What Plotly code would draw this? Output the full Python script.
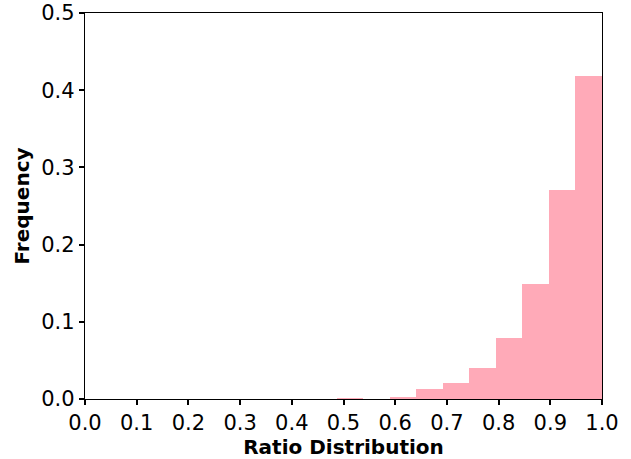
import plotly.graph_objects as go

bin_edges = [0.4870, 0.5383, 0.5896, 0.6409, 0.6922, 0.7435, 0.7948, 0.8461, 0.8974, 0.9487, 1.0]
frequencies = [0.0013, 0.0, 0.003, 0.013, 0.021, 0.040, 0.079, 0.149, 0.271, 0.418]
x_ticks = [0.0, 0.1, 0.2, 0.3, 0.4, 0.5, 0.6, 0.7, 0.8, 0.9, 1.0]
y_ticks = [0.0, 0.1, 0.2, 0.3, 0.4, 0.5]

centers = [(a + b) / 2 for a, b in zip(bin_edges[:-1], bin_edges[1:])]
widths = [b - a for a, b in zip(bin_edges[:-1], bin_edges[1:])]

fig = go.Figure(go.Bar(
    x=centers, y=frequencies, width=widths,
    marker=dict(color="#FFAAB8", line=dict(width=0)),
    hoverinfo="skip",
))

axis_common = dict(
    showline=True, linecolor="black", linewidth=1.3, mirror=True,
    ticks="outside", ticklen=5, tickwidth=1.5, tickcolor="black",
    showgrid=False, zeroline=False, automargin=False,
    tickfont=dict(family="DejaVu Sans", size=21, color="black"),
)

fig.update_layout(
    width=631, height=459,
    margin=dict(l=85, r=29, t=13, b=60),
    plot_bgcolor="white", paper_bgcolor="white",
    showlegend=False, bargap=0,
    xaxis=dict(range=[0, 1], tickvals=x_ticks, tickformat=".1f",
               title=dict(text="<b>Ratio Distribution</b>", standoff=4,
                          font=dict(family="DejaVu Sans", size=20, color="black")),
               **axis_common),
    yaxis=dict(range=[0, 0.5], tickvals=y_ticks, tickformat=".1f",
               title=dict(text="<b>Frequency</b>", standoff=6,
                          font=dict(family="DejaVu Sans", size=20, color="black")),
               **axis_common),
)

fig.write_html("out.html", config={"displayModeBar": False},
               post_script="document.body.style.margin='0';document.body.style.overflow='hidden';")
